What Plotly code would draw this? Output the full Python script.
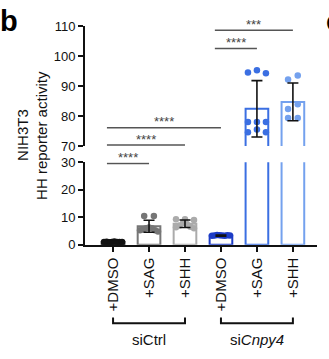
import plotly.graph_objects as go

# ---------------- data ----------------
categories = ["+DMSO", "+SAG", "+SHH", "+DMSO", "+SAG", "+SHH"]
groups = ["siCtrl", "si<i>Cnpy4</i>"]
means = [1.0, 6.7, 7.6, 3.3, 82.4, 84.7]
sds = [0.15, 2.2, 1.35, 0.2, 9.4, 6.3]
points = [
    [1.0, 1.1, 0.9, 1.0, 1.05, 0.95, 1.0, 1.0],
    [10.4, 10.4, 6.2, 6.0, 6.0, 5.5, 5.2, 5.2, 4.8],
    [9.2, 9.2, 9.0, 8.0, 7.5, 7.0, 6.5, 6.3, 6.0],
    [3.4, 3.3, 3.5, 3.2, 3.3, 3.4, 3.2, 3.3],
    [95.3, 94.5, 94.3, 78.0, 78.0, 78.0, 75.5, 74.6, 74.6],
    [92.2, 93.5, 82.3, 83.9, 79.3, 79.3],
]
# significance comparisons: (from, to, label)
comparisons = [(0, 1, "****"), (0, 2, "****"), (0, 3, "****"), (3, 4, "****"), (3, 5, "***")]
comp_levels = [29.5, 70.3, 76.1, 102.5, 108.6]
lower_ticks = [0, 10, 20, 30]
upper_ticks = [70, 80, 90, 100, 110]

# ---------------- style ----------------
colors = ["#111111", "#767676", "#ababab", "#1d3cc6", "#3b6fe2", "#74a1ee"]
fills = ["#111111", "white", "white", "white", "white", "white"]
FONT = "Liberation Sans, Arial, Helvetica, sans-serif"
X_DOMAIN = [85 / 329, 317 / 329]
LOW_DOMAIN = [(359 - 248) / 359, (359 - 162) / 359]
UP_DOMAIN = [(359 - 145) / 359, (359 - 20) / 359]
X_RANGE = [-0.78, 5.67]


def swarm_offsets(vals, thr, spacing=0.27, maxw=0.5):
    idx = sorted(range(len(vals)), key=lambda i: -vals[i])
    rows = []
    for i in idx:
        if rows and abs(vals[rows[-1][-1]] - vals[i]) <= thr:
            rows[-1].append(i)
        else:
            rows.append([i])
    offs = [0.0] * len(vals)
    for r in rows:
        r = sorted(r)
        n = len(r)
        s = min(spacing, maxw / (n - 1)) if n > 1 else 0
        pos = [(k - (n - 1) / 2) * s for k in range(n)]
        order = sorted(range(n), key=lambda k: (abs(pos[k]), pos[k]))
        for j, i in enumerate(r):
            offs[i] = pos[order[j]]
    return offs


fig = go.Figure()
xs = list(range(len(categories)))

for xa, ya in (("x", "y"), ("x2", "y2")):
    fig.add_trace(go.Bar(
        x=xs, y=means, width=0.63, xaxis=xa, yaxis=ya,
        marker=dict(color=fills, line=dict(color=colors, width=2)),
        hoverinfo="skip",
    ))
    for i, pts in enumerate(points):
        thr = 2.0 if max(pts) > 50 else 0.9
        offs = swarm_offsets(pts, thr)
        fig.add_trace(go.Scatter(
            x=[i + o for o in offs], y=pts, mode="markers", xaxis=xa, yaxis=ya,
            marker=dict(size=6.5, color=colors[i], line=dict(width=0)),
            hoverinfo="skip",
        ))
    fig.add_trace(go.Scatter(
        x=xs, y=means, mode="markers", xaxis=xa, yaxis=ya,
        marker=dict(size=1, opacity=0),
        error_y=dict(type="data", array=sds, visible=True, color="#111111",
                     thickness=1.6, width=5.5),
        hoverinfo="skip",
    ))

shapes = []
annotations = []
for (a, b, lab), lvl in zip(comparisons, comp_levels):
    yref = "y" if lvl <= 30 else "y2"
    x0 = a - 0.17
    shapes.append(dict(type="line", xref="x", yref=yref, x0=x0, x1=b, y0=lvl, y1=lvl,
                       line=dict(color="#555555", width=1.5)))
    annotations.append(dict(x=(x0 + b) / 2, y=lvl, xref="x", yref=yref, text=lab,
                            showarrow=False, yanchor="middle", yshift=6,
                            font=dict(family=FONT, size=13, color="#444444")))

# group brackets below the axis
for g, (a, b) in enumerate(((0, 2), (3, 5))):
    shapes.append(dict(type="path", xref="x", yref="paper",
                       path=f"M {a},{(359-324)/359} L {a},{(359-330)/359} L {b},{(359-330)/359} L {b},{(359-324)/359}",
                       line=dict(color="#111111", width=2)))
    annotations.append(dict(x=(a + b) / 2, y=(359 - 347) / 359, xref="x", yref="paper",
                            text=groups[g], showarrow=False, yanchor="middle",
                            font=dict(family=FONT, size=15, color="#111111")))

# axis title (two lines)
annotations.append(dict(x=12 / 329, y=(359 - 134) / 359, xref="paper", yref="paper",
                        text="NIH3T3", textangle=-90, showarrow=False,
                        font=dict(family=FONT, size=15, color="#111111")))
annotations.append(dict(x=31 / 329, y=(359 - 134) / 359, xref="paper", yref="paper",
                        text="HH reporter activity", textangle=-90, showarrow=False,
                        font=dict(family=FONT, size=15, color="#111111")))
# panel letters
annotations.append(dict(x=0, y=1, xref="paper", yref="paper", text="<b>b</b>",
                        showarrow=False, xanchor="left", yanchor="top", xshift=-2, yshift=4,
                        font=dict(family=FONT, size=29, color="#000000")))
annotations.append(dict(x=324 / 329, y=1, xref="paper", yref="paper", text="<b>c</b>",
                        showarrow=False, xanchor="left", yanchor="top", yshift=4,
                        font=dict(family=FONT, size=29, color="#000000")))

yax_common = dict(showline=True, linecolor="#111111", linewidth=2, ticks="outside",
                  ticklen=5, tickwidth=2, tickcolor="#111111", showgrid=False,
                  zeroline=False, tickfont=dict(family=FONT, size=13, color="#111111"),
                  anchor="x")

fig.update_layout(
    width=329, height=359, margin=dict(l=0, r=0, t=0, b=0),
    paper_bgcolor="white", plot_bgcolor="white", showlegend=False,
    xaxis=dict(domain=X_DOMAIN, range=X_RANGE, anchor="y", showline=True,
               linecolor="#111111", linewidth=2, ticks="outside", ticklen=5,
               tickwidth=2, tickcolor="#111111", tickvals=xs, ticktext=categories,
               tickangle=-90, showgrid=False, zeroline=False,
               tickfont=dict(family=FONT, size=15, color="#111111")),
    xaxis2=dict(domain=X_DOMAIN, range=X_RANGE, anchor="y2", matches="x", visible=False),
    yaxis=dict(domain=LOW_DOMAIN, range=[0, 30], tickvals=lower_ticks, **yax_common),
    yaxis2=dict(domain=UP_DOMAIN, range=[70, 110], tickvals=upper_ticks,
                **{**yax_common, "anchor": "x2"}),
    shapes=shapes, annotations=annotations,
)

fig.write_html("out.html")
